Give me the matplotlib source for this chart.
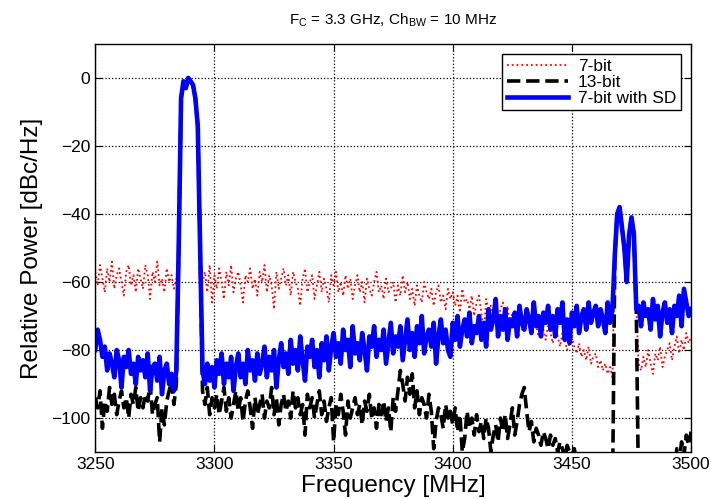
import matplotlib.pyplot as plt
import numpy as np

plt.rcParams['font.family'] = ['Liberation Sans', 'DejaVu Sans']

freq = np.arange(3250, 3501, 1)

# 7-bit (red dotted)
p_7bit = [
    -57, -61, -55, -59, -63, -56, -60, -54, -62, -58,   # 3250
    -56, -60, -64, -57, -55, -61, -58, -63, -56, -59,   # 3260
    -62, -55, -58, -65, -57, -60, -54, -61, -59, -63,   # 3270
    -56, -60, -58, -62, -59, -50, -6, -1, -3, 0,        # 3280
    -1, -2, -6, -14, -50, -60, -57, -63, -55, -66,      # 3290
    -58, -62, -56, -60, -65, -57, -61, -55, -63, -59,   # 3300
    -57, -61, -66, -58, -60, -56, -62, -59, -64, -57,   # 3310
    -60, -55, -63, -58, -61, -68, -57, -62, -59, -56,   # 3320
    -61, -58, -64, -57, -60, -62, -67, -59, -56, -63,   # 3330
    -60, -58, -65, -61, -57, -63, -59, -62, -66, -58,   # 3340
    -61, -57, -63, -60, -64, -58, -62, -59, -65, -61,   # 3350
    -58, -63, -60, -66, -59, -62, -64, -60, -57, -63,   # 3360
    -61, -65, -59, -63, -62, -60, -66, -61, -64, -58,   # 3370
    -63, -60, -65, -62, -67, -61, -64, -66, -60, -63,   # 3380
    -65, -62, -67, -63, -61, -66, -64, -68, -62, -65,   # 3390
    -63, -67, -64, -69, -62, -66, -65, -68, -64, -70,   # 3400
    -66, -64, -69, -75, -65, -68, -67, -70, -66, -72,   # 3410
    -68, -66, -71, -67, -73, -69, -70, -72, -68, -74,   # 3420
    -70, -72, -69, -75, -71, -73, -76, -72, -74, -77,   # 3430
    -73, -75, -78, -74, -76, -79, -75, -77, -80, -78,   # 3440
    -76, -79, -81, -78, -82, -80, -83, -79, -84, -82,   # 3450
    -81, -85, -83, -86, -84, -87, -85, -88, -52, -40,   # 3460
    -38, -44, -50, -60, -46, -41, -46, -68, -84, -86,   # 3470
    -82, -85, -80, -84, -87, -81, -83, -79, -85, -82,   # 3480
    -80, -78, -83, -79, -76, -81, -77, -80, -75, -78,   # 3490
    -76,                                                # 3500
]

# 13-bit (black dashed), values below -110 are off the axes
p_13bit = [
    -94, -97, -92, -103, -95, -98, -91, -96, -93, -99,      # 3250
    -95, -92, -97, -94, -100, -93, -96, -91, -98, -94,      # 3260
    -97, -93, -95, -90, -99, -96, -94, -107, -97, -102,     # 3270
    -95, -92, -89, -96, -90, -50, -6, -1, -3, 0,            # 3280
    -1, -2, -6, -14, -50, -92, -96, -91, -99, -94,          # 3290
    -97, -93, -99, -95, -91, -98, -94, -100, -96, -92,      # 3300
    -98, -94, -101, -95, -92, -97, -103, -94, -99, -96,     # 3310
    -93, -100, -95, -97, -91, -99, -94, -102, -96, -93,     # 3320
    -98, -95, -100, -92, -97, -94, -99, -96, -105, -93,     # 3330
    -97, -94, -100, -96, -92, -99, -95, -101, -97, -94,     # 3340
    -107, -96, -99, -93, -98, -105, -95, -100, -97, -94,    # 3350
    -99, -96, -102, -95, -98, -93, -100, -97, -103, -96,    # 3360
    -99, -95, -101, -97, -104, -94, -98, -92, -86, -90,     # 3370
    -95, -88, -93, -87, -97, -92, -99, -94, -96, -100,      # 3380
    -93, -98, -109, -101, -97, -99, -103, -96, -100, -98,   # 3390
    -102, -97, -104, -99, -110, -106, -98, -103, -100, -105,  # 3400
    -99, -104, -101, -106, -100, -103, -110, -105, -102, -107,  # 3410
    -100, -104, -99, -106, -102, -97, -105, -101, -96, -93,  # 3420
    -91, -98, -104, -101, -107, -103, -105, -108, -104, -106,  # 3430
    -109, -105, -108, -106, -110, -107, -109, -112, -108, -110,  # 3440
    -111, -109, -113, -115, -118, -120, -122, -125, -125, -125,  # 3450
    -125, -125, -125, -125, -125, -125, -125, -125, -52, -40,    # 3460
    -38, -44, -50, -60, -46, -41, -46, -68, -125, -125,          # 3470
    -125, -125, -125, -125, -125, -125, -125, -125, -125, -125,  # 3480
    -125, -125, -125, -118, -109, -113, -107, -111, -105, -108,  # 3490
    -104,                                                        # 3500
]

# 7-bit with SD (blue solid)
p_7bit_sd = [
    -80, -74, -77, -82, -79, -86, -81, -84, -88, -80,   # 3250
    -83, -91, -82, -85, -80, -87, -84, -90, -82, -86,   # 3260
    -83, -88, -81, -92, -85, -84, -89, -82, -93, -86,   # 3270
    -84, -90, -87, -92, -86, -50, -6, -1, -3, 0,        # 3280
    -1, -2, -6, -14, -50, -86, -90, -84, -89, -85,      # 3290
    -91, -83, -87, -81, -90, -84, -88, -82, -92, -85,   # 3300
    -81, -88, -84, -90, -80, -86, -83, -89, -81, -87,   # 3310
    -84, -79, -88, -82, -86, -80, -91, -83, -78, -85,   # 3320
    -81, -87, -77, -84, -80, -86, -76, -83, -89, -79,   # 3330
    -82, -77, -85, -80, -88, -78, -83, -76, -86, -79,   # 3340
    -75, -82, -78, -84, -74, -80, -77, -85, -73, -81,   # 3350
    -78, -83, -75, -80, -86, -76, -79, -73, -82, -77,   # 3360
    -80, -74, -84, -78, -72, -81, -76, -79, -73, -83,   # 3370
    -77, -71, -80, -75, -82, -73, -78, -70, -81, -76,   # 3380
    -74, -79, -72, -84, -76, -71, -78, -74, -80, -82,   # 3390
    -72, -77, -70, -79, -74, -71, -76, -69, -78, -73,   # 3400
    -75, -70, -77, -72, -79, -68, -74, -71, -65, -76,   # 3410
    -70, -74, -68, -77, -71, -73, -69, -76, -67, -72,   # 3420
    -74, -68, -71, -75, -66, -73, -70, -76, -69, -72,   # 3430
    -67, -74, -70, -76, -68, -72, -66, -77, -71, -78,   # 3440
    -69, -73, -67, -75, -70, -68, -74, -66, -72, -69,   # 3450
    -67, -73, -68, -71, -75, -66, -72, -68, -52, -40,   # 3460
    -38, -44, -50, -60, -46, -41, -46, -68, -67, -73,   # 3470
    -66, -70, -68, -74, -65, -71, -67, -76, -69, -66,   # 3480
    -72, -68, -75, -67, -70, -64, -73, -62, -66, -70,   # 3490
    -68,                                                # 3500
]

fig = plt.figure(figsize=(7.11, 4.99), dpi=100)
ax = fig.add_axes([0.134, 0.094, 0.838, 0.818])

ax.plot(freq, p_7bit, color='red', linestyle=':', linewidth=1.3, label='7-bit')
ax.plot(freq, p_13bit, color='black', linestyle='--', linewidth=2.6, label='13-bit')
ax.plot(freq, p_7bit_sd, color='#0000ff', linestyle='-', linewidth=3.3, label='7-bit with SD')

ax.set_xlim(3250, 3500)
ax.set_ylim(-110, 10)
ax.set_xticks([3250, 3300, 3350, 3400, 3450, 3500])
ax.set_yticks([-100, -80, -60, -40, -20, 0])
ax.grid(True, color='black', linestyle=':', linewidth=0.9)
ax.tick_params(direction='in', top=True, right=True, length=5, labelsize=12.5)
for s in ax.spines.values():
    s.set_linewidth(1.0)

ax.set_xlabel('Frequency [MHz]', fontsize=17.5, labelpad=2)
ax.set_ylabel('Relative Power [dBc/Hz]', fontsize=17.5, labelpad=6)
ax.set_title(r'F$_\mathregular{C}$ = 3.3 GHz, Ch$_\mathregular{BW}$ = 10 MHz', fontsize=11, pad=14)

leg = ax.legend(loc='upper right', fontsize=12.5, fancybox=False, framealpha=1,
                edgecolor='black', labelspacing=0.05, borderpad=0.25,
                handlelength=3.5, handletextpad=0.6, borderaxespad=0.6)
leg.get_frame().set_linewidth(1.0)

plt.savefig('out.png', dpi=100)
